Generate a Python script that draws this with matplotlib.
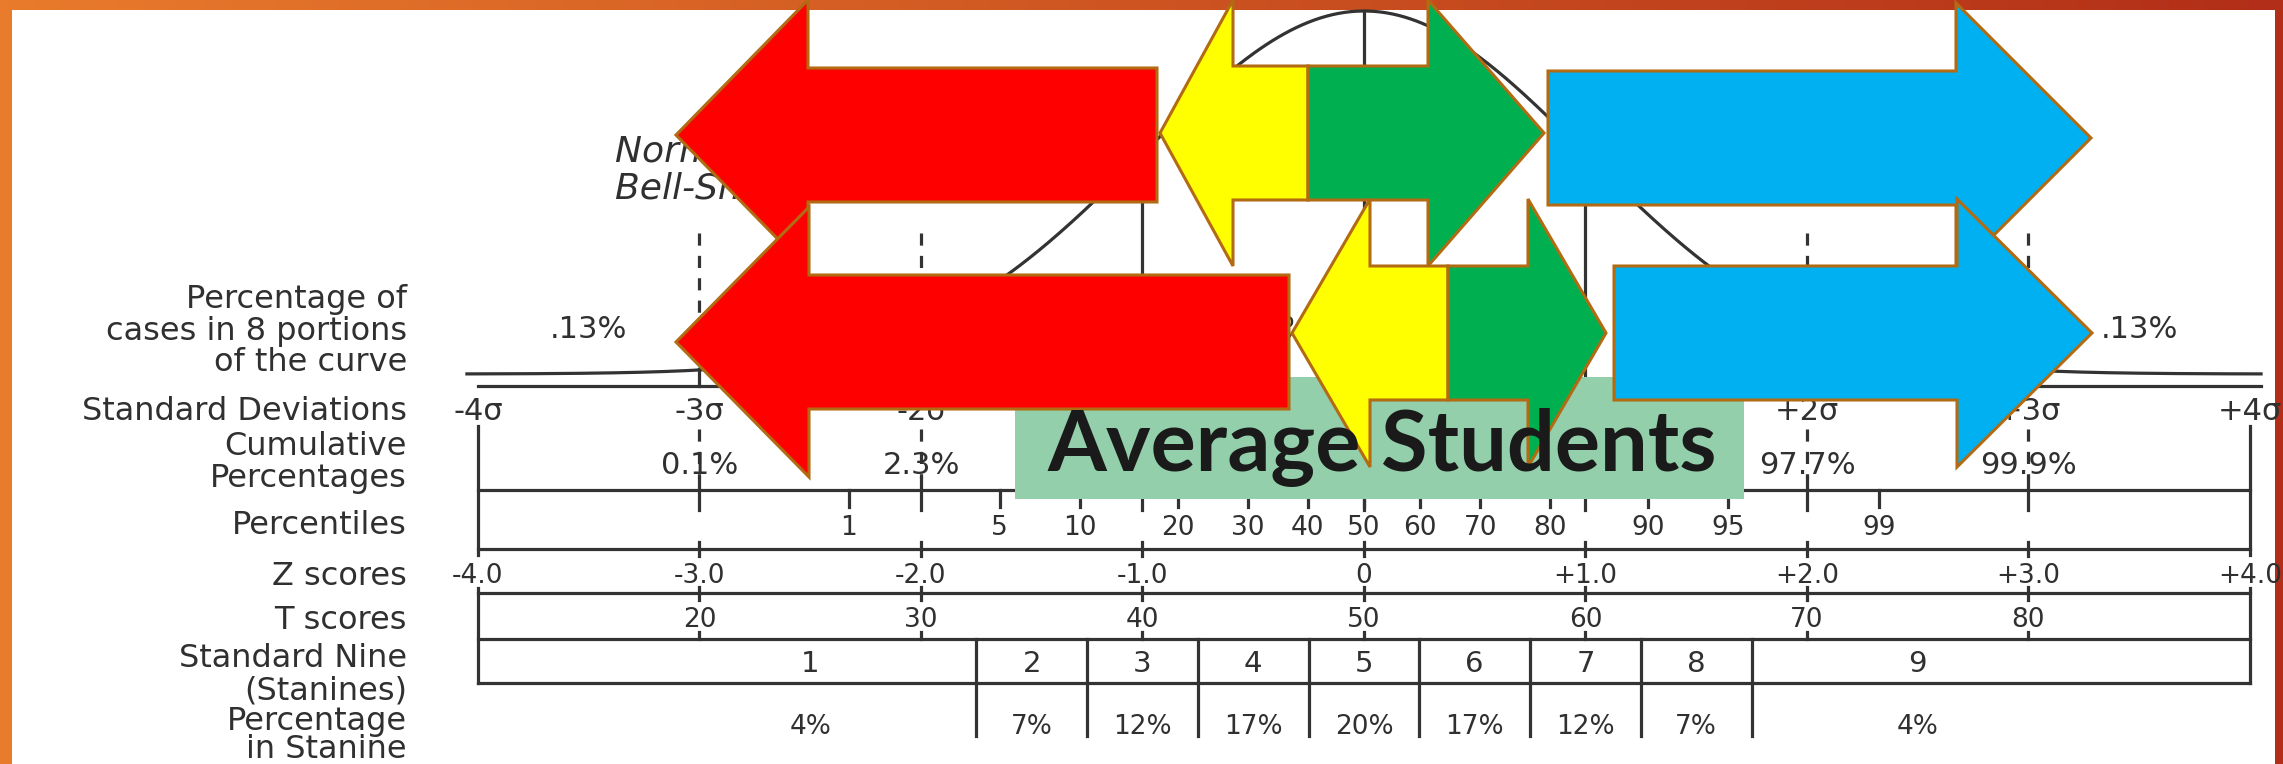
import math
import numpy as np
import matplotlib
matplotlib.use("Agg")
import matplotlib.pyplot as plt
from matplotlib.colors import to_rgb
from matplotlib.patches import Polygon, Rectangle

# ---------------------------------------------------------
# values
# ---------------------------------------------------------
sd_z = [-4, -3, -2, -1, 0, 1, 2, 3, 4]

# the middle sigma labels sit under the "Average Students" box
sd_label_z = [-4, -3, -2, 2, 3, 4]
sd_labels = ["-4σ", "-3σ", "-2σ", "+2σ", "+3σ", "+4σ"]

portion_z = [-3.5, -2.5, -1.5, -0.5, 0.5, 1.5, 2.5, 3.5]
portion_labels = [".13%", "2.14%", "13.59%", "34.13%", "34.13%", "13.59%", "2.14%", ".13%"]

# the middle cumulative values are hidden by the box as well
cum_z = [-3, -2, 2, 3]
cum_labels = ["0.1%", "2.3%", "97.7%", "99.9%"]

percentiles = [1, 5, 10, 20, 30, 40, 50, 60, 70, 80, 90, 95, 99]

z_labels = ["-4.0", "-3.0", "-2.0", "-1.0", "0", "+1.0", "+2.0", "+3.0", "+4.0"]

t_z = [-3, -2, -1, 0, 1, 2, 3]
t_scores = [20, 30, 40, 50, 60, 70, 80]

stanine_edges = [-1.75, -1.25, -0.75, -0.25, 0.25, 0.75, 1.25, 1.75]
stanine_z = [-2.5, -1.5, -1.0, -0.5, 0.0, 0.5, 1.0, 1.5, 2.5]
stanines = [1, 2, 3, 4, 5, 6, 7, 8, 9]
stanine_pct = ["4%", "7%", "12%", "17%", "20%", "17%", "12%", "7%", "4%"]

# row captions on the left and their rows (pixel rows from the top)
row_text = ["Percentage of", "cases in 8 portions", "of the curve",
            "Standard Deviations", "Cumulative", "Percentages", "Percentiles",
            "Z scores", "T scores", "Standard Nine", "(Stanines)",
            "Percentage", "in Stanine"]
row_y = [296, 328, 359, 408, 443, 475, 522, 573, 617, 655, 687, 718, 746]

W, H = 2283, 764
X0, PX = 1364, 221.5          # pixel of z=0, pixels per sigma
LC = "#333333"
TC = "#303030"
LW = 2.3


def z_of_percentile(p):
    lo, hi = -6.0, 6.0
    for _ in range(60):
        mid = (lo + hi) / 2
        if 0.5 * (1 + math.erf(mid / math.sqrt(2))) < p / 100:
            lo = mid
        else:
            hi = mid
    return (lo + hi) / 2


def arrow(ax, tail, back, tip, cy, sh, hh, color):
    pts = [(tail, cy - sh), (back, cy - sh), (back, cy - hh), (tip, cy),
           (back, cy + hh), (back, cy + sh), (tail, cy + sh)]
    ax.add_patch(Polygon(pts, closed=True, facecolor=color,
                         edgecolor="#B26B12", lw=2.2, joinstyle="miter"))


plt.rcParams["font.family"] = ["DejaVu Sans"]
plt.rcParams["hatch.linewidth"] = 2.0

fig = plt.figure(figsize=(W / 100, H / 100), dpi=100)

# --- slide background with orange frame ---
bg = fig.add_axes([0, 0, 1, 1])
bg.set_xlim(0, W)
bg.set_ylim(H, 0)
bg.axis("off")
g = np.linspace(0, 1, 256)[:, None]
img = np.array(to_rgb("#E8731F")) * (1 - g) + np.array(to_rgb("#AE220A")) * g
bg.imshow(img[None, :, :], extent=(0, W, H, 0), aspect="auto")
bg.add_patch(Rectangle((0, 0), W, H, fill=False, hatch="//////////",
                       edgecolor=(1, 1, 1, 0.06), lw=0))
bg.add_patch(Rectangle((12, 10), 2275 - 12, H, facecolor="white", lw=0))

# --- the normal curve chart ---
ax = fig.add_axes([0, 0, 1, 1])
ax.set_xlim(-X0 / PX, (W - X0) / PX)
ax.set_ylim(H, 0)
ax.axis("off")

base, peak = 374, 363
zz = np.linspace(-4.05, 4.05, 600)
ax.plot(zz, base - peak * np.exp(-zz ** 2 / 2), color=LC, lw=LW)
ax.plot([-4, 4.05], [386, 386], color=LC, lw=LW)

for z in (-1, 0, 1):
    ax.plot([z, z], [base - peak * math.exp(-z * z / 2), 386], color=LC, lw=LW)
for z in (-3, -2, 2, 3):
    ax.plot([z, z], [233, 369], color=LC, lw=LW, ls=(0, (3.8, 3.2)))
    ax.plot([z, z], [369, 386], color=LC, lw=LW)

ax.text(-3.38, 148, "Normal Curve,", fontsize=26, style="italic",
        color=TC, ha="left", va="center_baseline")
ax.text(-3.38, 185, "Bell-Shaped Curve", fontsize=26, style="italic",
        color=TC, ha="left", va="center_baseline")

# cumulative percentages and percentiles block
for z in sd_z[1:-1]:
    ax.plot([z, z], [429, 478], color=LC, lw=LW, ls=(0, (3.8, 3.2)))
    ax.plot([z, z], [478, 510], color=LC, lw=LW)
for z in (-4, 4):
    ax.plot([z, z], [426, 555], color=LC, lw=LW)
    ax.plot([z, z], [588, 683], color=LC, lw=LW)
for y in (490, 549, 593, 639, 683):
    ax.plot([-4, 4], [y, y], color=LC, lw=LW)
for p in percentiles:
    zp = z_of_percentile(p)
    ax.plot([zp, zp], [490, 507], color=LC, lw=LW)
    ax.text(zp, 525, str(p), fontsize=19, color=TC, ha="center", va="center_baseline")
for z in sd_z[1:-1]:
    ax.plot([z, z], [542, 556], color=LC, lw=LW)
    ax.plot([z, z], [587, 600], color=LC, lw=LW)
    ax.plot([z, z], [632, 639], color=LC, lw=LW)
for e in stanine_edges:
    ax.plot([e, e], [639, 736], color=LC, lw=LW)

for z, s in zip(portion_z, portion_labels):
    ax.text(z, 327, s, fontsize=22, color=TC, ha="center", va="center_baseline")
for z, s in zip(sd_label_z, sd_labels):
    ax.text(z, 408, s, fontsize=22, color=TC, ha="center", va="center_baseline")
for z, s in zip(cum_z, cum_labels):
    ax.text(z, 463, s, fontsize=22, color=TC, ha="center", va="center_baseline")
for z, s in zip(sd_z, z_labels):
    ax.text(z, 573, s, fontsize=19, color=TC, ha="center", va="center_baseline")
for z, t in zip(t_z, t_scores):
    ax.text(z, 617, str(t), fontsize=19, color=TC, ha="center", va="center_baseline")
for z, s in zip(stanine_z, stanines):
    ax.text(z, 661, str(s), fontsize=21, color=TC, ha="center", va="center_baseline")
for z, s in zip(stanine_z, stanine_pct):
    ax.text(z, 724, s, fontsize=19, color=TC, ha="center", va="center_baseline")

for s, y in zip(row_text, row_y):
    ax.text(-4.32, y, s, fontsize=23, color=TC, ha="right", va="center_baseline")

# --- slide overlay: label box and arrows ---
ov = fig.add_axes([0, 0, 1, 1])
ov.set_xlim(0, W)
ov.set_ylim(H, 0)
ov.axis("off")

ov.add_patch(Rectangle((1015, 377), 1744 - 1015, 499 - 377,
                       facecolor="#93CFAA", lw=0))
ov.text(1382, 470, "Average Students", fontsize=61, fontweight="bold",
        family=["Lato", "DejaVu Sans"], color="#1A1A1A",
        ha="center", va="baseline")

# top row
arrow(ov, 1157, 808, 676, 135, 67, 135, "#FF0000")
arrow(ov, 1308, 1233, 1160, 133, 67, 133, "#FFFF00")
arrow(ov, 1308, 1428, 1544, 133, 67, 133, "#00B050")
arrow(ov, 1548, 1956, 2091, 138, 67, 135, "#00B0F0")
# bottom row
arrow(ov, 1289, 809, 676, 342, 67, 135, "#FF0000")
arrow(ov, 1448, 1370, 1292, 333, 67, 134, "#FFFF00")
arrow(ov, 1448, 1528, 1606, 333, 67, 134, "#00B050")
arrow(ov, 1614, 1957, 2092, 333, 67, 134, "#00B0F0")

fig.savefig("out.png", dpi=100)
